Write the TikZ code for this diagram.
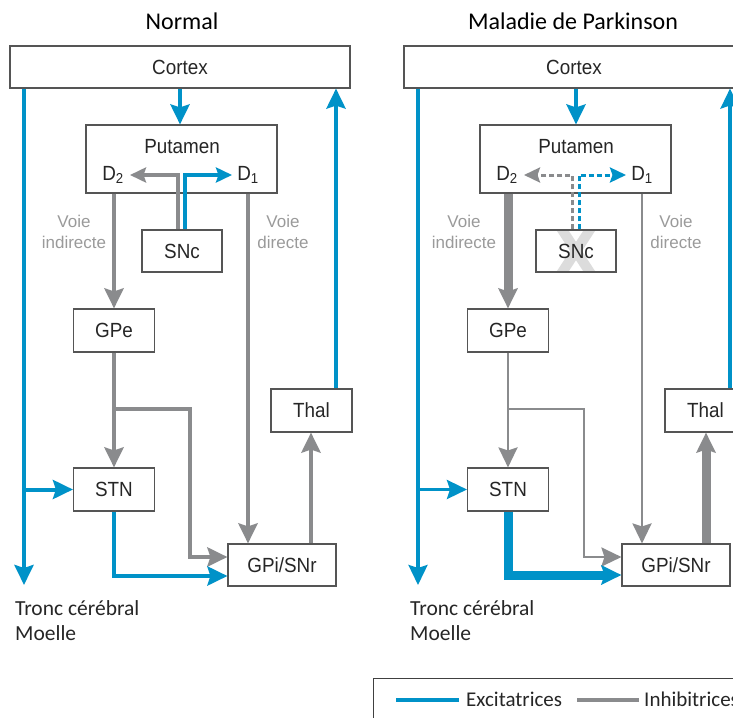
\documentclass[tikz,border=0pt]{standalone}
\usepackage{fontspec}
\setmainfont{Carlito}
\newfontfamily\cond[FakeStretch=0.92]{Liberation Sans}
\newfontfamily\lib{Liberation Sans}
\usetikzlibrary{arrows.meta}
\definecolor{exc}{HTML}{0092C8}
\definecolor{inh}{HTML}{8A8B8D}
\definecolor{boxline}{HTML}{555555}
\definecolor{voie}{HTML}{9A9A9A}
\definecolor{xgray}{HTML}{DCDCDC}
\begin{document}
\begin{tikzpicture}[x=1pt,y=-1pt,
  box/.style={draw=boxline,line width=1.1pt,fill=white,inner sep=0pt,
    font=\cond\fontsize{20.5}{24}\selectfont,text=black!85},
  lab/.style={inner sep=0pt,font=\cond\fontsize{20.5}{24}\selectfont,text=black!85},
  voie/.style={inner sep=0pt,align=center,text=voie,
    font=\lib\fontsize{17}{21}\selectfont},
  titletext/.style={inner sep=0pt,font=\fontsize{24}{28}\selectfont},
  notetext/.style={inner sep=0pt,align=left,anchor=north west,
    font=\fontsize{21.5}{25}\selectfont,text=black!85},
  bigtip/.style={-{Stealth[length=20pt,width=19pt,inset=3pt]}},
  smalltip/.style={-{Stealth[length=16pt,width=15pt,inset=2.5pt]}},
  exl/.style={draw=exc,line width=4pt,bigtip},
  exthin/.style={draw=exc,line width=3.2pt,bigtip},
  exthick/.style={draw=exc,line width=9pt,bigtip},
  inhl/.style={draw=inh,line width=4.5pt,bigtip},
  inhthin/.style={draw=inh,line width=2.6pt,bigtip},
  inhthick/.style={draw=inh,line width=9pt,bigtip},
  exsm/.style={draw=exc,line width=4pt,smalltip},
  inhsm/.style={draw=inh,line width=4.5pt,smalltip},
  exdash/.style={draw=exc,line width=3pt,dash pattern=on 5pt off 3pt,smalltip},
  inhdash/.style={draw=inh,line width=3pt,dash pattern=on 5pt off 3pt,smalltip}
]
\useasboundingbox (0,0) rectangle (733,717);
\path[clip] (0,0) rectangle (733,717);

% ================= NORMAL =================
\node[titletext] (titleN) at (182,21) {Normal};
\node[box,minimum width=340pt,minimum height=42pt] (cortexN) at (180,67) {Cortex};
\node[box,minimum width=191pt,minimum height=68pt] (putN) at (181.5,159) {};
\node[lab] (putlabN) at (182,147) {Putamen};
\node[lab] (d2N) at (113,175) {D\textsubscript{2}};
\node[lab] (d1N) at (248,175) {D\textsubscript{1}};
\node[box,minimum width=80pt,minimum height=42pt] (sncN) at (182,251) {SNc};
\node[box,minimum width=81pt,minimum height=43pt] (gpeN) at (114,330.5) {GPe};
\node[box,minimum width=81pt,minimum height=43pt] (stnN) at (114,489.5) {STN};
\node[box,minimum width=108pt,minimum height=42pt] (gpiN) at (282,565) {GPi/SNr};
\node[box,minimum width=81pt,minimum height=43pt] (thalN) at (311.5,410.5) {Thal};
\node[voie] (viN) at (74,232) {Voie\\indirecte};
\node[voie] (vdN) at (283,232) {Voie\\directe};
\node[notetext] (troncN) at (15,600) {Tronc cérébral\\Moelle};

\coordinate (lxN) at (24,585);
\coordinate (rxN) at (336,0);
\coordinate (dxN) at (248,0);
\coordinate (brN) at (190,409);
\coordinate (bcN) at (190,557);
\coordinate (bbN) at (114,576);
\coordinate (txN) at (311,0);
\coordinate (gvN) at (178,175);
\coordinate (g2N) at (130,175);
\coordinate (bvN) at (185,175);
\coordinate (b1N) at (232,175);

\draw[exl] (cortexN.south) -- (cortexN.south |- putN.north);
\draw[exl] (cortexN.south -| lxN) -- (lxN);
\draw[exl] (lxN |- stnN.west) -- (stnN.west);
\draw[exl] (thalN.north -| rxN) -- (cortexN.south -| rxN);
\draw[inhl] (putN.south -| gpeN.north) -- (gpeN.north);
\draw[inhl] (putN.south -| dxN) -- (gpiN.north -| dxN);
\draw[inhl] (gpeN.south) -- (stnN.north);
\draw[inhl] (gpeN.south |- brN) -- (brN) -- (bcN) -- (gpiN.west |- bcN);
\draw[exl] (stnN.south) -- (bbN) -- (gpiN.west |- bbN);
\draw[inhl] (gpiN.north -| txN) -- (thalN.south -| txN);
\draw[inhsm] (sncN.north -| gvN) -- (gvN) -- (g2N);
\draw[exsm] (sncN.north -| bvN) -- (bvN) -- (b1N);

% ================= PARKINSON =================
\node[titletext] (titleP) at (573,21) {Maladie de Parkinson};
\node[box,minimum width=340pt,minimum height=42pt] (cortexP) at (574,67) {Cortex};
\node[box,minimum width=191pt,minimum height=68pt] (putP) at (575.5,159) {};
\node[lab] (putlabP) at (576,147) {Putamen};
\node[lab] (d2P) at (507,175) {D\textsubscript{2}};
\node[lab] (d1P) at (642,175) {D\textsubscript{1}};
\node[box,minimum width=80pt,minimum height=42pt,
  path picture={
    \draw[xgray,line width=10pt]
      ([shift={(-15,-23)}]path picture bounding box.center) --
      ([shift={(15,23)}]path picture bounding box.center)
      ([shift={(15,-23)}]path picture bounding box.center) --
      ([shift={(-15,23)}]path picture bounding box.center);
  }] (sncP) at (576,251) {SNc};
\node[box,minimum width=81pt,minimum height=43pt] (gpeP) at (508,330.5) {GPe};
\node[box,minimum width=81pt,minimum height=43pt] (stnP) at (508,489.5) {STN};
\node[box,minimum width=108pt,minimum height=42pt] (gpiP) at (676,565) {GPi/SNr};
\node[box,minimum width=81pt,minimum height=43pt] (thalP) at (705.5,410.5) {Thal};
\node[voie] (viP) at (464,232) {Voie\\indirecte};
\node[voie] (vdP) at (676,232) {Voie\\directe};
\node[notetext] (troncP) at (410,600) {Tronc cérébral\\Moelle};

\coordinate (lxP) at (418,585);
\coordinate (rxP) at (730,0);
\coordinate (dxP) at (642,0);
\coordinate (brP) at (584,409);
\coordinate (bcP) at (584,557);
\coordinate (bbP) at (508,575);
\coordinate (txP) at (706,0);
\coordinate (gvP) at (572,175);
\coordinate (g2P) at (524,175);
\coordinate (bvP) at (579,175);
\coordinate (b1P) at (626,175);

\draw[exl] (cortexP.south -| putlabP) -- (putlabP |- putP.north);
\draw[exthin] (cortexP.south -| lxP) -- (lxP);
\draw[exthin] (lxP |- stnP.west) -- (stnP.west);
\draw[exthin] (thalP.north -| rxP) -- (cortexP.south -| rxP);
\draw[inhthick] (putP.south -| gpeP.north) -- (gpeP.north);
\draw[inhthin] (putP.south -| dxP) -- (gpiP.north -| dxP);
\draw[inhthin] (gpeP.south) -- (stnP.north);
\draw[inhthin] (gpeP.south |- brP) -- (brP) -- (bcP) -- (gpiP.west |- bcP);
\draw[exthick] (stnP.south) -- (bbP) -- (gpiP.west |- bbP);
\draw[inhthick] (gpiP.north -| txP) -- (thalP.south -| txP);
\draw[inhdash] (sncP.north -| gvP) -- (gvP) -- (g2P);
\draw[exdash] (sncP.north -| bvP) -- (bvP) -- (b1P);

% ================= LEGEND =================
\node[draw=black!75,line width=1pt,minimum width=400pt,minimum height=80pt,
  anchor=north west] (legend) at (373,678) {};
\coordinate (le1) at (396,700);
\coordinate (le2) at (459,700);
\coordinate (li1) at (577,700);
\coordinate (li2) at (639,700);
\draw[draw=exc,line width=3.5pt] (le1) -- (le2);
\draw[draw=inh,line width=3.5pt] (li1) -- (li2);
\node[inner sep=0pt,anchor=west,font=\fontsize{21}{25}\selectfont,text=black!85] (lexc) at (466,699) {Excitatrices};
\node[inner sep=0pt,anchor=west,font=\fontsize{21}{25}\selectfont,text=black!85] (linh) at (644,699) {Inhibitrices};
\end{tikzpicture}
\end{document}
